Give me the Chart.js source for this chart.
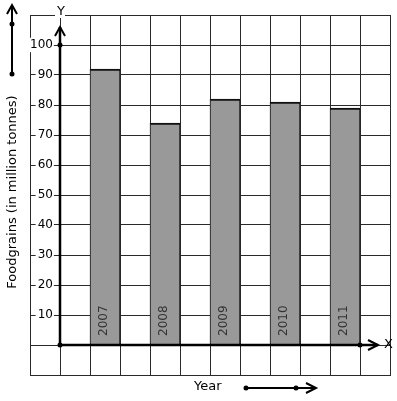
<!DOCTYPE html>
<html>
<head>
<meta charset="utf-8">
<script src="https://cdn.jsdelivr.net/npm/chart.js@4"></script>
<style>
html,body{margin:0;padding:0;background:#fff;}
canvas{display:block;}
</style>
</head>
<body>
<canvas id="c" width="397" height="401"></canvas>
<script>
const years = ['2007', '2008', '2009', '2010', '2011'];
const values = [92, 74, 82, 81, 79];
const yTickLabels = [10, 20, 30, 40, 50, 60, 70, 80, 90, 100];
const yAxisTitle = 'Foodgrains (in million tonnes)';
const xAxisTitle = 'Year';

const labels = [''].concat(years.flatMap(y => ['', y]), ['']);
const data = [null].concat(values.flatMap(v => [null, v]), [null]);

const FONT = '"DejaVu Sans", Verdana, sans-serif';

function arrowHead(ctx, tx, ty, dir) {
  ctx.beginPath();
  if (dir === 'up') {
    ctx.moveTo(tx - 5, ty + 9); ctx.lineTo(tx, ty); ctx.lineTo(tx + 5, ty + 9);
  } else {
    ctx.moveTo(tx - 10, ty - 5); ctx.lineTo(tx, ty); ctx.lineTo(tx - 10, ty + 5);
  }
  ctx.stroke();
}
function dot(ctx, x, y) {
  ctx.beginPath(); ctx.arc(x, y, 2.5, 0, Math.PI * 2); ctx.fill();
}

const deco = {
  id: 'deco',
  afterDraw(chart) {
    const ctx = chart.ctx;
    const xs = chart.scales.x, ys = chart.scales.y;
    const colW = xs.getPixelForValue(1) - xs.getPixelForValue(0);
    const x0 = xs.getPixelForValue(0) + colW / 2;
    const y0 = ys.getPixelForValue(0);
    ctx.save();
    // bar year labels
    ctx.fillStyle = '#333';
    ctx.font = '12px ' + FONT;
    ctx.textAlign = 'left';
    ctx.textBaseline = 'alphabetic';
    labels.forEach((lab, i) => {
      if (!lab) return;
      const cx = xs.getPixelForValue(i);
      ctx.save();
      ctx.translate(cx + 1.5, y0 - 9);
      ctx.rotate(-Math.PI / 2);
      ctx.fillText(lab, 0, 0);
      ctx.restore();
    });
    // axes
    ctx.strokeStyle = '#000';
    ctx.fillStyle = '#000';
    ctx.lineWidth = 2.5;
    const yTop = ys.getPixelForValue(106);
    ctx.beginPath(); ctx.moveTo(x0, y0); ctx.lineTo(x0, yTop); ctx.stroke();
    ctx.lineWidth = 2;
    arrowHead(ctx, x0, yTop, 'up');
    const xEnd = xs.right - 12;
    ctx.lineWidth = 2.5;
    ctx.beginPath(); ctx.moveTo(x0, y0); ctx.lineTo(xEnd, y0); ctx.stroke();
    ctx.lineWidth = 2;
    arrowHead(ctx, xEnd, y0, 'right');
    dot(ctx, x0, ys.getPixelForValue(100));
    dot(ctx, x0, y0);
    dot(ctx, xs.getPixelForValue(10) + colW / 2, y0);
    // axis letters
    ctx.font = '13px ' + FONT;
    ctx.textAlign = 'center';
    ctx.textBaseline = 'middle';
    ctx.fillStyle = '#fff';
    ctx.fillRect(x0 - 5, 4, 10, 14);
    ctx.fillStyle = '#000';
    ctx.fillText('Y', x0 + 1, 12);
    ctx.textAlign = 'left';
    ctx.fillText('X', xEnd + 6, y0);
    // left vertical arrow
    ctx.lineWidth = 2;
    ctx.beginPath(); ctx.moveTo(12, 74); ctx.lineTo(12, 5); ctx.stroke();
    arrowHead(ctx, 12, 5, 'up');
    dot(ctx, 12, 24); dot(ctx, 12, 74);
    // y title
    ctx.save();
    ctx.translate(12.5, 192);
    ctx.rotate(-Math.PI / 2);
    ctx.textAlign = 'center';
    ctx.fillText(yAxisTitle, 0, 0);
    ctx.restore();
    // x title and arrow
    ctx.textAlign = 'left';
    ctx.fillText(xAxisTitle, 194, 387);
    ctx.beginPath(); ctx.moveTo(246, 388); ctx.lineTo(315, 388); ctx.stroke();
    arrowHead(ctx, 316, 388, 'right');
    dot(ctx, 246, 388); dot(ctx, 296, 388);
    ctx.restore();
  }
};

new Chart(document.getElementById('c'), {
  type: 'bar',
  data: {
    labels: labels,
    datasets: [{
      data: data,
      backgroundColor: '#999999',
      borderColor: '#111',
      borderWidth: { top: 2, left: 1, right: 1, bottom: 0 },
      borderSkipped: false,
      barPercentage: 1,
      categoryPercentage: 1
    }]
  },
  options: {
    responsive: false,
    animation: false,
    events: [],
    layout: { padding: { left: 30, top: 15, right: 7, bottom: 26 } },
    plugins: { legend: { display: false }, tooltip: { enabled: false } },
    scales: {
      x: {
        grid: { color: '#2a2a2a', lineWidth: 1, drawTicks: false, offset: true },
        border: { color: '#2a2a2a', width: 1 },
        ticks: { display: false },
        afterFit(s) { s.height = 0; }
      },
      y: {
        min: -10, max: 110,
        grid: { color: '#2a2a2a', lineWidth: 1, drawTicks: false },
        border: { color: '#2a2a2a', width: 1 },
        ticks: {
          stepSize: 10,
          mirror: true,
          crossAlign: 'far',
          padding: 0,
          color: '#000',
          showLabelBackdrop: c => !!(c.tick && yTickLabels.includes(c.tick.value)),
          backdropColor: c => (c.tick && yTickLabels.includes(c.tick.value)) ? '#fff' : 'rgba(0,0,0,0)',
          backdropPadding: { left: 2, right: 1, top: 0, bottom: 0 },
          font: { family: FONT, size: 12 },
          callback: v => yTickLabels.includes(v) ? String(v) : ''
        },
        afterFit(s) { s.width = 0; }
      }
    }
  },
  plugins: [deco]
});
</script>
</body>
</html>
